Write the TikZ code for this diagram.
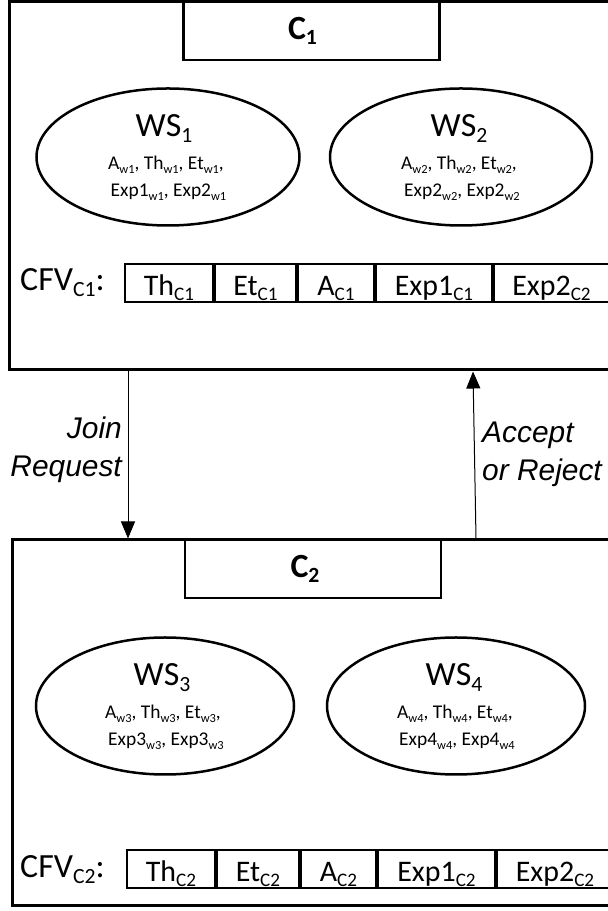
\documentclass[tikz,border=0pt]{standalone}
\usepackage{fontspec}
\setmainfont{Carlito}
\newfontfamily\arialfont{Liberation Sans}
\usetikzlibrary{arrows.meta,shapes.geometric}

% lowered, reduced index text
\newcommand{\lo}[1]{\raisebox{-0.16em}{\scalebox{0.64}{#1}}}

\tikzset{
  outerbox/.style={draw, line width=3bp},
  hdrbox/.style={draw, line width=2.5bp, fill=white, minimum width=256bp,
    minimum height=58bp, inner sep=0pt},
  hdrtext/.style={inner sep=0pt, font=\fontsize{34}{38}\selectfont\bfseries},
  wsshape/.style={draw, ellipse, line width=2.5bp, inner sep=0pt},
  wsname/.style={anchor=base, inner sep=0pt, font=\fontsize{34}{38}\selectfont},
  wsattr/.style={anchor=base, inner sep=0pt, font=\fontsize{19.5}{22}\selectfont},
  cfvlabel/.style={anchor=base west, inner sep=0pt, font=\fontsize{34}{38}\selectfont},
  cell/.style={draw, line width=2bp, minimum height=38bp, inner sep=0pt,
    anchor=west, text depth=0pt},
  celltext/.style={anchor=base, inner sep=0pt, font=\fontsize{30}{34}\selectfont},
  msg/.style={inner sep=0pt, font=\fontsize{30}{38}\selectfont\arialfont\itshape},
  flow/.style={line width=1bp, -{Triangle[length=17bp,width=14bp]}},
}

\begin{document}
\begin{tikzpicture}[x=1bp,y=1bp]
\useasboundingbox (0,0) rectangle (608,911);
\clip (0,0) rectangle (608,911);

% ---------------- cluster C1 ----------------
\draw[outerbox] (9,909.5) rectangle (609.8,541);
\node[hdrbox] (c1) at (311.5,880) {};
\node[hdrtext] at ([xshift=-9bp]c1.center) {C\lo{1}};

\node[wsshape, minimum width=263bp, minimum height=137bp] (ws1) at (168,754) {};
\node[wsname] at (164,774) {WS\lo{1}};
\node[wsattr] at (166,741) {A\lo{w1}, Th\lo{w1}, Et\lo{w1},};
\node[wsattr] at (168.5,714) {Exp1\lo{w1}, Exp2\lo{w1}};

\node[wsshape, minimum width=262bp, minimum height=137bp] (ws2) at (461,754) {};
\node[wsname] at (459,774) {WS\lo{2}};
\node[wsattr] at (459,741) {A\lo{w2}, Th\lo{w2}, Et\lo{w2},};
\node[wsattr] at (462,714) {Exp2\lo{w2}, Exp2\lo{w2}};

\node[cfvlabel] (cfv1) at (20,620) {CFV\lo{C1}:};
\node[cell, minimum width=88bp]  (a1) at (124,628) {};
\node[cell, minimum width=81bp]  (a2) at (a1.east) {};
\node[cell, minimum width=76bp]  (a3) at (a2.east) {};
\node[cell, minimum width=116bp] (a4) at (a3.east) {};
\node[cell, minimum width=115bp] (a5) at (a4.east) {};
\node[celltext] at (a1.center |- 0,615) {Th\lo{C1}};
\node[celltext] at (a2.center |- 0,615) {Et\lo{C1}};
\node[celltext] at (a3.center |- 0,615) {A\lo{C1}};
\node[celltext] at (a4.center |- 0,615) {Exp1\lo{C1}};
\node[celltext] at (a5.center |- 0,615) {Exp2\lo{C2}};

% ---------------- cluster C2 ----------------
\draw[outerbox] (12,371) rectangle (620,5);
\node[hdrbox] (c2) at (313,342) {};
\node[hdrtext] at ([xshift=-8bp]c2.center) {C\lo{2}};

\node[wsshape, minimum width=258bp, minimum height=137bp] (ws3) at (165,205) {};
\node[wsname] at (162,225) {WS\lo{3}};
\node[wsattr] at (163,192) {A\lo{w3}, Th\lo{w3}, Et\lo{w3},};
\node[wsattr] at (166,165) {Exp3\lo{w3}, Exp3\lo{w3}};

\node[wsshape, minimum width=258bp, minimum height=137bp] (ws4) at (456,205) {};
\node[wsname] at (454,225) {WS\lo{4}};
\node[wsattr] at (455,192) {A\lo{w4}, Th\lo{w4}, Et\lo{w4},};
\node[wsattr] at (457,165) {Exp4\lo{w4}, Exp4\lo{w4}};

\node[cfvlabel] (cfv2) at (20,33) {CFV\lo{C2}:};
\node[cell, minimum width=88bp]  (b1) at (126,42) {};
\node[cell, minimum width=82bp]  (b2) at (b1.east) {};
\node[cell, minimum width=75bp]  (b3) at (b2.east) {};
\node[cell, minimum width=117bp] (b4) at (b3.east) {};
\node[cell, minimum width=116bp] (b5) at (b4.east) {};
\node[celltext] at (b1.center |- 0,29) {Th\lo{C2}};
\node[celltext] at (b2.center |- 0,29) {Et\lo{C2}};
\node[celltext] at (b3.center |- 0,29) {A\lo{C2}};
\node[celltext] at (b4.center |- 0,29) {Exp1\lo{C2}};
\node[celltext] at (b5.center |- 0,29) {Exp2\lo{C2}};

% ---------------- messages between clusters ----------------
\coordinate (jfrom) at (128,539.5);
\coordinate (jto)   at (128,372.5);
\coordinate (rfrom) at (476,372.5);
\coordinate (rto)   at (473,539.5);
\draw[flow] (jfrom) -- (jto);
\draw[flow] (rfrom) -- (rto);

\node[msg, align=right, anchor=east] (join) at (122,461.5) {Join\\Request};
\node[msg, align=left, anchor=west] (acc) at (482,457) {Accept\\or Reject};
\end{tikzpicture}
\end{document}
